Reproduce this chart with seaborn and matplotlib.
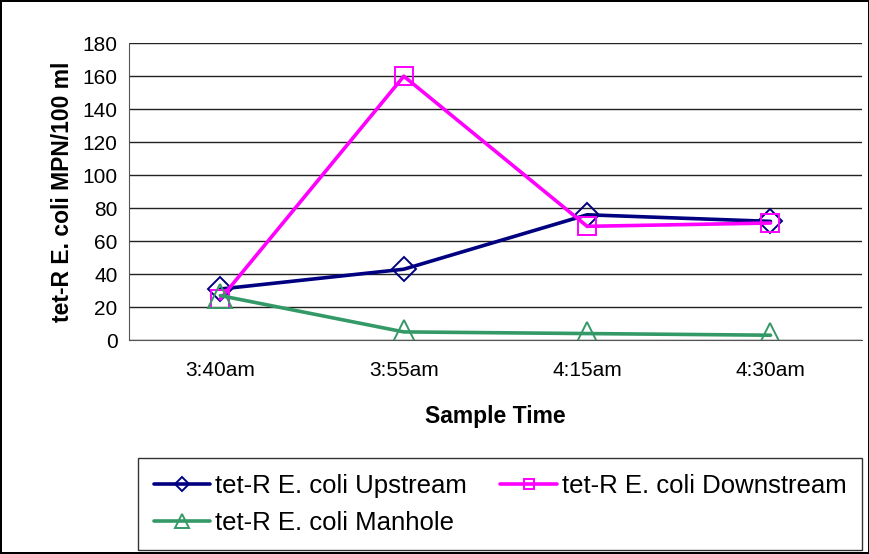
import matplotlib
matplotlib.use("Agg")
import matplotlib.pyplot as plt
import seaborn as sns
import pandas as pd

times = ["3:40am", "3:55am", "4:15am", "4:30am"]
upstream = [31, 43, 76, 72]
downstream = [25, 160, 69, 71]
manhole = [27, 5, 4, 3]
series_names = ["tet-R E. coli Upstream", "tet-R E. coli Downstream", "tet-R E. coli Manhole"]
y_ticks = [0, 20, 40, 60, 80, 100, 120, 140, 160, 180]

sns.set_style("white")
plt.rcParams["font.family"] = ["Liberation Sans", "DejaVu Sans"]
plt.rcParams["text.color"] = "black"
plt.rcParams["axes.labelcolor"] = "black"
plt.rcParams["xtick.color"] = "black"
plt.rcParams["ytick.color"] = "black"

rows = []
for name, vals in zip(series_names, [upstream, downstream, manhole]):
    for i, (t, v) in enumerate(zip(times, vals)):
        rows.append({"pos": i, "time": t, "value": v, "series": name})
df = pd.DataFrame(rows)

colors = {series_names[0]: "#000080", series_names[1]: "#FF00FF", series_names[2]: "#339966"}
markers = {series_names[0]: "D", series_names[1]: "s", series_names[2]: "^"}
msizes = {series_names[0]: 12, series_names[1]: 13, series_names[2]: 17}

fig = plt.figure(figsize=(8.7, 5.54), dpi=100)
fig.patch.set_edgecolor("black")
fig.patch.set_linewidth(1.5)
ax = fig.add_axes([0.148, 0.386, 0.843, 0.536])

handles = {}
for name in series_names:
    sub = df[df["series"] == name]
    sns.lineplot(data=sub, x="pos", y="value", ax=ax, color=colors[name],
                 linewidth=2.6, marker=markers[name], markersize=msizes[name],
                 markerfacecolor="none", markeredgecolor=colors[name],
                 markeredgewidth=1.4, label=name, legend=False)
    handles[name] = ax.lines[-1]

ax.set_xlim(-0.5, 3.5)
ax.set_ylim(0, 180)
ax.set_yticks(y_ticks)
ax.set_xticks(range(len(times)))
ax.set_xticklabels(times)
ax.set_xticks([0.5, 1.5, 2.5, 3.5], minor=True)
ax.tick_params(axis="x", which="major", length=0, pad=15, labelsize=15)
ax.tick_params(axis="x", which="minor", length=6, width=1, color="#555555", direction="out")
ax.tick_params(axis="y", which="major", length=5, width=1, color="#555555", direction="out", labelsize=15, pad=3)
ax.yaxis.grid(True, color="#222222", linewidth=1)
ax.set_axisbelow(True)
for s in ["top", "right"]:
    ax.spines[s].set_visible(False)
ax.spines["left"].set_color("#555555")
ax.spines["bottom"].set_color("#555555")
ax.set_xlabel("Sample Time", fontsize=16.5, fontweight="bold", labelpad=18)
ax.set_ylabel("tet-R E. coli MPN/100 ml", fontsize=16.5, fontweight="bold", labelpad=6)

order = [series_names[0], series_names[2], series_names[1]]
leg = fig.legend([handles[n] for n in order], order, ncol=2, mode="expand",
                 bbox_to_anchor=(0.159, 0.007, 0.832, 0.166), loc="lower left",
                 fontsize=18.5, frameon=True, fancybox=False, edgecolor="black",
                 handlelength=2.2, handletextpad=0.2, borderaxespad=0, labelspacing=0.5,
                 borderpad=0.6, markerscale=0.6)
leg.get_frame().set_linewidth(1)

fig.savefig("out.png", dpi=100)
